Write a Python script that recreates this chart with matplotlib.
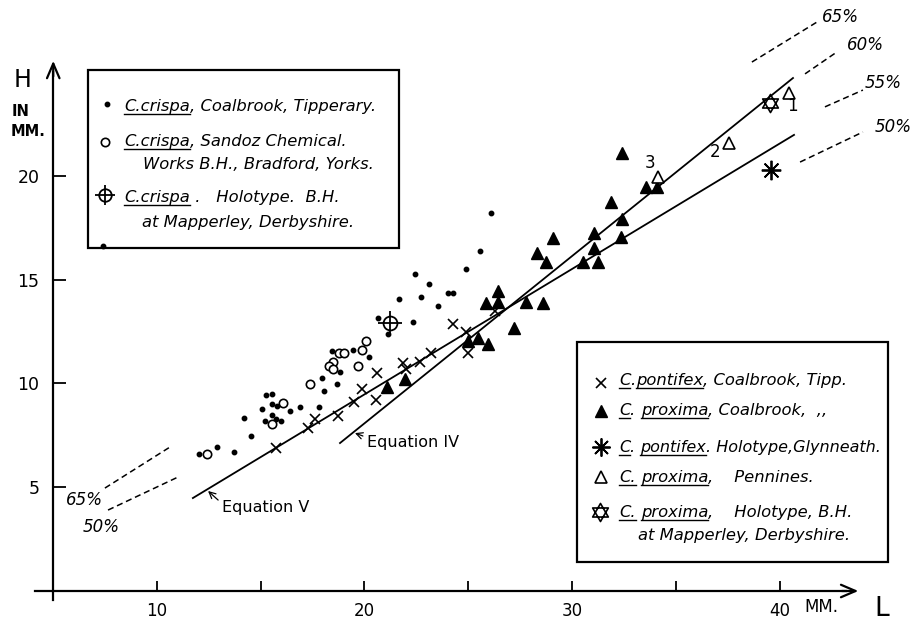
import matplotlib
matplotlib.use("Agg")
from matplotlib import pyplot as plt
from matplotlib.lines import Line2D
from matplotlib.patches import Rectangle
from matplotlib.path import Path

#=======================================================================================
# data (L and H in mm)

# C. crispa, Coalbrook, Tipperary (dots)
crispa_L = [7.40, 12.02, 12.89, 13.71, 14.53, 14.19, 15.06, 15.25, 15.54, 15.54, 15.78,
            15.54, 15.20, 15.73, 15.98, 16.41, 16.89, 17.81, 18.05, 17.95, 18.67, 18.43,
            18.82, 19.45, 20.22, 21.13, 20.65, 22.34, 21.66, 22.72, 23.54, 22.43, 23.11,
            24.02, 24.27, 24.89, 25.57, 26.10]
crispa_H = [16.63, 6.60, 6.94, 6.70, 7.47, 8.34, 8.77, 9.45, 9.49, 9.01, 8.92,
            8.48, 8.19, 8.29, 8.19, 8.67, 8.87, 8.87, 9.64, 10.27, 9.98, 11.57,
            10.55, 11.61, 11.28, 12.39, 13.16, 12.96, 14.07, 14.17, 13.73, 15.28, 14.80,
            14.36, 14.36, 15.52, 16.39, 18.22]

# C. crispa, Sandoz Chemical Works (open circles)
sandoz_L = [12.41, 15.54, 16.07, 17.37, 18.77, 19.01, 18.48, 18.29, 18.48, 19.69, 19.88, 20.07]
sandoz_H = [6.60, 8.05, 9.06, 9.98, 11.47, 11.47, 11.04, 10.84, 10.70, 10.84, 11.61, 12.05]

# C. pontifex, Coalbrook (x)
pontifex_L = [15.73, 17.28, 17.61, 18.72, 19.49, 20.55, 19.88, 20.60, 21.86, 22.00,
              22.67, 23.20, 24.27, 24.89, 24.99, 26.29]
pontifex_H = [6.89, 7.86, 8.29, 8.43, 9.11, 9.20, 9.73, 10.51, 10.99, 10.70,
              11.04, 11.47, 12.87, 12.48, 11.47, 13.49]

# C. proxima, Coalbrook (filled triangles)
proxima_L = [21.08, 21.95, 24.99, 25.47, 25.95, 25.86, 26.43, 26.43, 27.20, 27.78, 28.60, 28.31,
             28.75, 29.08, 30.53, 31.25, 31.06, 31.06, 31.88, 32.41, 32.36, 32.41, 33.57, 34.10]
proxima_H = [9.83, 10.22, 12.05, 12.19, 11.90, 13.88, 14.46, 13.93, 12.67, 13.93, 13.88, 16.29,
             15.86, 17.01, 15.86, 15.86, 17.25, 16.53, 18.75, 17.93, 17.06, 21.11, 19.47, 19.47]

# C. proxima, Pennines (open triangles, numbered)
pennines_L = [40.46, 37.57, 34.14]
pennines_H = [24.00, 21.59, 19.95]
pennines_num = ['1', '2', '3']
pennines_num_L = [40.60, 36.89, 33.76]
pennines_num_H = [23.37, 21.16, 20.63]

# holotypes
holo_crispa = (21.23, 12.92)
holo_pontifex = (39.59, 20.29)
holo_proxima = (39.54, 23.52)

# fitted lines
eqV_L = [11.73, 40.70]
eqV_H = [4.48, 21.98]
eqIV_L = [18.82, 40.65]
eqIV_H = [7.13, 24.72]

# percentage guide lines
pct_labels = ['65%', '50%', '65%', '60%', '55%', '50%']
pct_L0 = [7.49, 7.64, 38.67, 41.23, 42.19, 40.99]
pct_H0 = [4.96, 3.90, 25.49, 24.92, 23.33, 20.67]
pct_L1 = [10.63, 11.01, 41.81, 42.70, 44.02, 44.02]
pct_H1 = [6.94, 5.49, 27.42, 25.93, 24.14, 22.12]
pct_txt_L = [6.48, 7.30, 42.92, 44.12, 44.99, 45.47]
pct_txt_H = [4.39, 3.08, 27.66, 26.31, 24.48, 22.36]

xticks_major = [10, 20, 30, 40]
xticks_minor = [15, 25, 35]
yticks = [5, 10, 15, 20]

#=======================================================================================

W, Hpx = 915, 623

def fx(px):
    return px / W

def fy(py):
    return 1 - py / Hpx

# six pointed star (two triangles about their centroid)
hexagram = Path([(0, 1), (-0.866, -0.5), (0.866, -0.5), (0, 1),
                 (0, -1), (-0.866, 0.5), (0.866, 0.5), (0, -1)],
                [Path.MOVETO, Path.LINETO, Path.LINETO, Path.CLOSEPOLY,
                 Path.MOVETO, Path.LINETO, Path.LINETO, Path.CLOSEPOLY])

fig = plt.figure(figsize=(W / 100, Hpx / 100), dpi=100)
ax = fig.add_axes([0, 0, 1, 1])
ax.set_xlim(2.434, 46.53)
ax.set_ylim(-1.542, 28.48)

for s in ['top', 'right']:
    ax.spines[s].set_visible(False)
ax.spines['left'].set_position(('data', 5))
ax.spines['bottom'].set_position(('data', 0))
ax.spines['left'].set_bounds(-0.43, 25.0)
ax.spines['bottom'].set_bounds(4.12, 43.2)
for s in ['left', 'bottom']:
    ax.spines[s].set_linewidth(1.6)

ax.set_xticks(xticks_major)
ax.set_xticklabels([str(v) for v in xticks_major])
ax.set_xticks(xticks_minor, minor=True)
ax.set_yticks(yticks)
ax.set_yticklabels([str(v) for v in yticks])
ax.tick_params(axis='x', which='both', direction='in', length=7, width=1.3, pad=8, labelsize=12)
ax.tick_params(axis='y', which='both', direction='in', length=9, width=1.3, pad=10, labelsize=12.5)

arr = dict(arrowstyle='->,head_length=0.7,head_width=0.3', lw=1.6, mutation_scale=15,
           shrinkA=0, shrinkB=0, color='black')
ax.annotate('', xy=(5, 25.55), xytext=(5, 24.8), arrowprops=arr)
ax.annotate('', xy=(43.8, 0), xytext=(43.0, 0), arrowprops=arr)

# axis labels
fig.text(fx(23), fy(80), 'H', fontsize=17, ha='center', va='center')
fig.text(fx(12), fy(112), 'IN', fontsize=10.5, fontweight='bold', ha='left', va='center')
fig.text(fx(11), fy(132), 'MM.', fontsize=10.5, fontweight='bold', ha='left', va='center')
fig.text(fx(821), fy(607), 'MM.', fontsize=12, ha='center', va='center')
fig.text(fx(882), fy(609), 'L', fontsize=19, ha='center', va='center')

# fitted lines
ax.plot(eqV_L, eqV_H, color='black', lw=1.3)
ax.plot(eqIV_L, eqIV_H, color='black', lw=1.3)

for i, lab in enumerate(pct_labels):
    ax.plot([pct_L0[i], pct_L1[i]], [pct_H0[i], pct_H1[i]], color='black', lw=1.1,
            linestyle=(0, (4, 2.5)))
    ax.text(pct_txt_L[i], pct_txt_H[i], lab, fontsize=12, style='italic',
            ha='center', va='center')

ax.annotate('Equation V', xy=(12.46, 4.82), xytext=(13.13, 4.0), fontsize=11.5,
            ha='left', va='center',
            arrowprops=dict(arrowstyle='->', lw=0.9, relpos=(0, 0.8), shrinkA=1, shrinkB=0))
ax.annotate('Equation IV', xy=(19.54, 7.61), xytext=(20.12, 7.18), fontsize=11.5,
            ha='left', va='center',
            arrowprops=dict(arrowstyle='->', lw=0.9, relpos=(0, 0.8), shrinkA=1, shrinkB=0))

# data points
ax.plot(crispa_L, crispa_H, 'o', color='black', ms=3.2, ls='none')
ax.plot(sandoz_L, sandoz_H, 'o', mfc='white', mec='black', mew=1.2, ms=6, ls='none')
ax.plot(pontifex_L, pontifex_H, 'x', color='black', mew=1.2, ms=6.5, ls='none')
ax.plot(proxima_L, proxima_H, '^', color='black', ms=8, ls='none')
ax.plot(pennines_L, pennines_H, '^', mfc='white', mec='black', mew=1.2, ms=9, ls='none')
for i, n in enumerate(pennines_num):
    ax.text(pennines_num_L[i], pennines_num_H[i], n, fontsize=12, ha='center', va='center')

ax.plot(*holo_crispa, 'o', mfc='none', mec='black', mew=1.3, ms=10)
ax.plot(*holo_crispa, '+', color='black', mew=1.3, ms=17)
ax.plot(*holo_pontifex, marker=(8, 2, 0), color='black', mew=1.3, ms=14)
ax.plot(*holo_proxima, marker=hexagram, mfc='none', mec='black', mew=1.2, ms=13)

# legend boxes
fig.add_artist(Rectangle((fx(88), fy(248)), fx(399) - fx(88), fy(70) - fy(248),
                         transform=fig.transFigure, fill=False, lw=1.6, color='black'))
fig.add_artist(Rectangle((fx(577), fy(562)), fx(888) - fx(577), fy(342) - fy(562),
                         transform=fig.transFigure, fill=False, lw=1.6, color='black'))

fig.canvas.draw()
renderer = fig.canvas.get_renderer()

def write_pieces(px, py, pieces, size=11.8):
    x = fx(px)
    for s, under in pieces:
        t = fig.text(x, fy(py), s, fontsize=size, style='italic', ha='left', va='baseline')
        bb = t.get_window_extent(renderer)
        if under:
            fig.add_artist(Line2D([bb.x0 / W, bb.x1 / W], [fy(py + 3), fy(py + 3)],
                                  transform=fig.transFigure, color='black', lw=1.0))
        x = bb.x1 / W

def legend_marker(px, py, **kw):
    fig.add_artist(Line2D([fx(px)], [fy(py)], transform=fig.transFigure, ls='none', **kw))

legend_marker(107, 104, marker='o', color='black', ms=3.2)
write_pieces(124, 111, [('C.crispa', True), (', Coalbrook, Tipperary.', False)])
legend_marker(105, 142, marker='o', mfc='white', mec='black', mew=1.2, ms=6)
write_pieces(124, 146, [('C.crispa', True), (', Sandoz Chemical.', False)])
write_pieces(143, 169, [('Works B.H., Bradford, Yorks.', False)])
legend_marker(105, 195, marker='o', mfc='none', mec='black', mew=1.3, ms=9)
legend_marker(105, 195, marker='+', color='black', mew=1.3, ms=15)
write_pieces(124, 202, [('C.crispa', True), (' .   Holotype.  B.H.', False)])
write_pieces(142, 227, [('at Mapperley, Derbyshire.', False)])

legend_marker(601, 383, marker='x', color='black', mew=1.2, ms=6.5)
write_pieces(619, 385, [('C', True), ('.', False), ('pontifex', True), (', Coalbrook, Tipp.', False)])
legend_marker(601, 411, marker='^', color='black', ms=8)
write_pieces(619, 415, [('C', True), ('. ', False), ('proxima', True), (', Coalbrook,  ,,', False)])
legend_marker(601, 447, marker=(8, 2, 0), color='black', mew=1.3, ms=13)
write_pieces(619, 452, [('C', True), ('. ', False), ('pontifex', True), ('. Holotype,Glynneath.', False)],
             size=11.5)
legend_marker(601, 477, marker='^', mfc='white', mec='black', mew=1.2, ms=9)
write_pieces(619, 482, [('C.', True), (' ', False), ('proxima', True), (',    Pennines.', False)])
legend_marker(600, 512, marker=hexagram, mfc='none', mec='black', mew=1.2, ms=13)
write_pieces(619, 517, [('C.', True), (' ', False), ('proxima', True), (',    Holotype, B.H.', False)])
write_pieces(638, 540, [('at Mapperley, Derbyshire.', False)])

plt.savefig('out.png', dpi=100)
